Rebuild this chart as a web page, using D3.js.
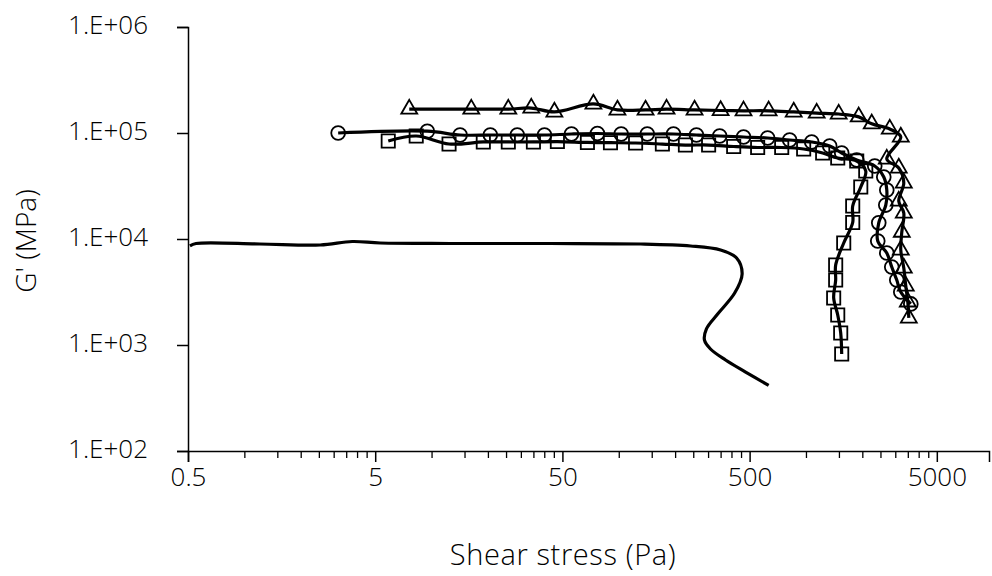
<!DOCTYPE html>
<html lang="en">
<head>
  <meta charset="UTF-8">
  <title>G' vs shear stress</title>
  <style>
    html, body { margin: 0; width: 100%; height: 100%; overflow: hidden; background: #fff; }
    svg { display: block; }
    text { font-family: "Open Sans", sans-serif; font-weight: 300; fill: #000; }
  </style>
</head>
<body>
  <div id="chart"></div>
  <script src="https://cdn.jsdelivr.net/npm/d3@7"></script>
  <script>
    // tick labels
    const xTicks = [0.5, 5, 50, 500, 5000]
    const yTicks = [1e2, 1e3, 1e4, 1e5, 1e6]

    // series (shear stress Pa, G')
    const triX = [7.6, 16.3, 25.7, 34.1, 45.3, 73.2, 98.4, 139, 180, 254, 350, 464, 632, 860, 1141, 1496, 1913, 2246, 2803, 3210, 2702, 3131, 3331, 3131, 3331, 3250, 3210, 3331, 3414, 3499, 3543]
    const triY = [1.68e5, 1.68e5, 1.68e5, 1.72e5, 1.58e5, 1.88e5, 1.65e5, 1.65e5, 1.68e5, 1.65e5, 1.63e5, 1.62e5, 1.62e5, 1.58e5, 1.54e5, 1.51e5, 1.42e5, 1.22e5, 1.09e5, 9.17e4, 5.68e4, 4.68e4, 3.38e4, 2.28e4, 1.76e4, 1.16e4, 7.87e3, 5.33e3, 3.6e3, 2.55e3, 1.8e3]

    const cirX = [3.17, 9.49, 14.2, 20.6, 28.7, 40.1, 55.9, 76.9, 103, 142, 196, 260, 346, 464, 624, 818, 1073, 1339, 1552, 1867, 2330, 2604, 2702, 2669, 2448, 2418, 2702, 2873, 3055, 3210, 3631]
    const cirY = [1.0e5, 1.04e5, 9.57e4, 9.57e4, 9.57e4, 9.57e4, 9.78e4, 9.89e4, 9.78e4, 9.78e4, 9.78e4, 9.57e4, 9.37e4, 9.17e4, 8.97e4, 8.59e4, 8.23e4, 7.54e4, 6.48e4, 5.56e4, 4.88e4, 3.84e4, 2.9e4, 2.09e4, 1.42e4, 9.57e3, 7.38e3, 5.44e3, 4.1e3, 3.16e3, 2.44e3]

    const sqX = [5.87, 8.28, 12.4, 18.9, 25.7, 35.0, 47.0, 68.0, 90.3, 123, 171, 227, 302, 411, 552, 742, 972, 1228, 1478, 1867, 2086, 1962, 1777, 1777, 1591, 1441, 1441, 1406, 1478, 1533, 1552]
    const sqY = [8.4e4, 9.37e4, 7.87e4, 8.23e4, 8.23e4, 8.23e4, 8.3e4, 8.14e4, 8.1e4, 8.05e4, 7.87e4, 7.7e4, 7.7e4, 7.46e4, 7.3e4, 7.3e4, 7.07e4, 6.48e4, 5.81e4, 5.44e4, 4.38e4, 3.09e4, 2.05e4, 1.43e4, 9.17e3, 5.68e3, 4.1e3, 2.78e3, 1.92e3, 1.3e3, 822]

    const curveX = [0.512, 0.552, 1.21, 2.54, 3.77, 5.32, 12.6, 43.1, 131, 242, 350, 426, 456, 416, 341, 294, 287, 309, 372, 476, 632]
    const curveY = [8.6e3, 9.07e3, 8.97e3, 8.78e3, 9.47e3, 9.17e3, 9.07e3, 9.07e3, 8.97e3, 8.59e3, 7.87e3, 6.62e3, 4.68e3, 3.09e3, 2.0e3, 1.42e3, 1.11e3, 917, 722, 556, 415]

    const width = 992
    const height = 576
    const margin = { top: 27, right: 3, bottom: 125, left: 188 }

    const x = d3.scaleLog()
      .domain([0.5, 9500])
      .range([margin.left, width - margin.right])

    const y = d3.scaleLog()
      .domain([1e2, 1e6])
      .range([height - margin.bottom, margin.top])

    const svg = d3.select('#chart').append('svg')
      .attr('width', width)
      .attr('height', height)

    // minor ticks on x: 0.5 * k * 10^n
    const minorX = []
    for (let d = 0.5; d < 5000; d *= 10) {
      for (let k = 2; k <= 9; k++) minorX.push(d * k)
    }

    svg.append('g')
      .attr('transform', `translate(0,${y(1e2)})`)
      .call(d3.axisBottom(x).tickValues(minorX).tickSize(7).tickFormat(''))
      .call(g => g.select('.domain').remove())
      .call(g => g.selectAll('line').attr('stroke-width', 1.3))

    svg.append('g')
      .attr('transform', `translate(0,${y(1e2)})`)
      .call(d3.axisBottom(x).tickValues(xTicks).tickSizeOuter(0).tickSize(11).tickPadding(6).tickFormat(d => String(d)))
      .call(g => g.select('.domain').attr('stroke-width', 1.5))
      .call(g => g.selectAll('line').attr('stroke-width', 1.5))
      .call(g => g.selectAll('text').attr('font-size', 26).attr('font-family', null))

    svg.append('g')
      .attr('transform', `translate(${x(0.5)},0)`)
      .call(d3.axisLeft(y).tickValues(yTicks).tickSizeOuter(0).tickSize(11).tickPadding(29)
        .tickFormat(d => '1.E+' + String(Math.round(Math.log10(d))).padStart(2, '0')))
      .call(g => g.select('.domain').attr('stroke-width', 1.5))
      .call(g => g.selectAll('line').attr('stroke-width', 1.5))
      .call(g => g.selectAll('text').attr('font-size', 26).attr('font-family', null).attr('dy', '0.26em'))

    svg.append('text')
      .attr('x', 563)
      .attr('y', 565)
      .attr('text-anchor', 'middle')
      .attr('font-size', 29)
      .attr('letter-spacing', 0.6)
      .text('Shear stress (Pa)')

    svg.append('text')
      .attr('transform', 'translate(36,241) rotate(-90)')
      .attr('text-anchor', 'middle')
      .attr('font-size', 28)
      .text("G' (MPa)")

    const line = d3.line()
      .x(d => x(d[0]))
      .y(d => y(d[1]))
      .curve(d3.curveCatmullRom.alpha(0.5))

    const zip = (xs, ys) => xs.map((v, i) => [v, ys[i]])

    svg.append('path')
      .datum(zip(curveX, curveY))
      .attr('d', line)
      .attr('fill', 'none')
      .attr('stroke', '#000')
      .attr('stroke-width', 3.2)

    const series = [
      { data: zip(sqX, sqY), marker: d3.symbolSquare, size: 175 },
      { data: zip(cirX, cirY), marker: d3.symbolCircle, size: 150 },
      { data: zip(triX, triY), marker: d3.symbolTriangle, size: 110 }
    ]

    series.forEach(s => {
      svg.append('path')
        .datum(s.data)
        .attr('d', line)
        .attr('fill', 'none')
        .attr('stroke', '#000')
        .attr('stroke-width', 3.2)

      svg.append('g')
        .selectAll('path')
        .data(s.data)
        .join('path')
        .attr('transform', d => `translate(${x(d[0])},${y(d[1])})`)
        .attr('d', d3.symbol().type(s.marker).size(s.size))
        .attr('fill', 'none')
        .attr('stroke', '#000')
        .attr('stroke-width', 1.8)
    })
  </script>
</body>
</html>
